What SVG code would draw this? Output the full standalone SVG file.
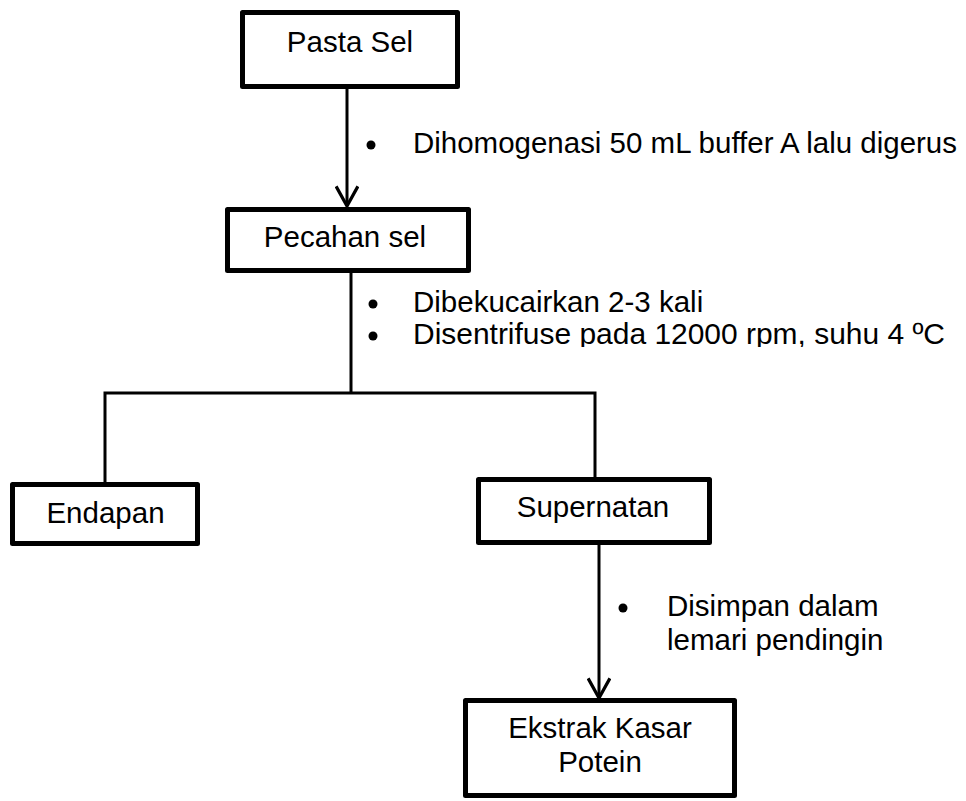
<svg xmlns="http://www.w3.org/2000/svg" width="966" height="801" viewBox="0 0 966 801">
<style>
.box{fill:#fff;stroke:#000;stroke-width:5;stroke-linejoin:round}
.t{font-family:"Liberation Sans",Arial,sans-serif;font-size:29.5px;fill:#000}
.c{text-anchor:middle}
.ln{fill:none;stroke:#000;stroke-width:3}
</style>
<defs>
<marker id="arr" markerUnits="userSpaceOnUse" markerWidth="24" markerHeight="24" refX="19" refY="11" orient="auto" viewBox="0 0 22 22">
<path d="M1,1 L19,11 L1,21" fill="none" stroke="#000" stroke-width="3"/>
</marker>
<clipPath id="cut"><rect x="0" y="0" width="966" height="347"/></clipPath>
</defs>
<rect width="966" height="801" fill="#fff"/>
<g id="connectors">
<line class="ln" x1="347" y1="88" x2="347" y2="206" marker-end="url(#arr)"/>
<polyline class="ln" points="351,273 351,393"/>
<polyline class="ln" points="105,482 105,393 595,393 595,477"/>
<line class="ln" x1="599" y1="545" x2="599" y2="698" marker-end="url(#arr)"/>
</g>
<g id="pasta-sel">
<rect class="box" x="242.5" y="12.5" width="215" height="74"/>
<text class="t c" x="350" y="52">Pasta Sel</text>
</g>
<g id="label-1">
<circle cx="371" cy="145" r="4.5"/>
<text class="t" x="413" y="153" textLength="544" lengthAdjust="spacingAndGlyphs">Dihomogenasi 50 mL buffer A lalu digerus</text>
</g>
<g id="pecahan-sel">
<rect class="box" x="227.5" y="209.5" width="241" height="61"/>
<text class="t c" x="345" y="247">Pecahan sel</text>
</g>
<g id="label-2">
<circle cx="373" cy="304" r="4.5"/>
<text class="t" x="413" y="312">Dibekucairkan 2-3 kali</text>
<circle cx="373" cy="336" r="4.5"/>
<text class="t" x="413" y="344" clip-path="url(#cut)" textLength="532" lengthAdjust="spacingAndGlyphs">Disentrifuse pada 12000 rpm, suhu 4 ºC</text>
</g>
<g id="endapan">
<rect class="box" x="12.5" y="484.5" width="185" height="59"/>
<text class="t c" x="105.5" y="523">Endapan</text>
</g>
<g id="supernatan">
<rect class="box" x="478.5" y="479.5" width="231" height="63"/>
<text class="t c" x="593" y="517">Supernatan</text>
</g>
<g id="label-3">
<circle cx="623" cy="608" r="4.5"/>
<text class="t" x="667" y="616">Disimpan dalam</text>
<text class="t" x="667" y="650">lemari pendingin</text>
</g>
<g id="ekstrak">
<rect class="box" x="465.5" y="700.5" width="269" height="95"/>
<text class="t c" x="600" y="738">Ekstrak Kasar</text>
<text class="t c" x="600" y="772">Potein</text>
</g>
</svg>
